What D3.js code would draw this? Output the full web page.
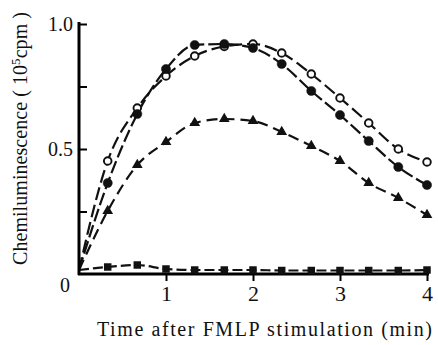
<!DOCTYPE html>
<html>
<head>
<meta charset="utf-8">
<script src="https://cdn.jsdelivr.net/npm/d3@7"></script>
<style>
  body { margin: 0; background: #fff; }
  svg { display: block; }
  text { font-family: "Liberation Serif", "Times New Roman", serif; fill: #111; }
</style>
</head>
<body>
<svg id="chart" width="438" height="345"></svg>
<script>

// time points (min)
var times = [0, 0.33, 0.67, 1, 1.33, 1.67, 2, 2.33, 2.67, 3, 3.33, 3.67, 4];

// chemiluminescence (10^5 cpm)
var openCircles   = [0.016, 0.452, 0.664, 0.792, 0.872, 0.910, 0.920, 0.884, 0.800, 0.704, 0.604, 0.500, 0.448];
var filledCircles = [0.016, 0.364, 0.640, 0.820, 0.916, 0.920, 0.904, 0.840, 0.732, 0.636, 0.532, 0.428, 0.356];
var triangles     = [0.016, 0.252, 0.436, 0.528, 0.604, 0.620, 0.612, 0.568, 0.512, 0.452, 0.364, 0.304, 0.236];
var squares       = [0.016, 0.028, 0.036, 0.020, 0.016, 0.016, 0.016, 0.014, 0.014, 0.014, 0.014, 0.014, 0.016];

var xTicks = [1, 2, 3, 4];
var yTicks = [0, 0.25, 0.5, 0.75, 1];
var yTickLabels = {"0": "0", "0.5": "0.5", "1": "1.0"};

var svg = d3.select("#chart");

var x = d3.scaleLinear()
    .domain([0, 4])
    .range([79, 427]);

var y = d3.scaleLinear()
    .domain([0, 1])
    .range([274, 24]);

function pts(vals) {
    return vals.map(function(v, i) { return {t: times[i], v: v}; });
}

var line = d3.line()
    .x(function(d) { return x(d.t); })
    .y(function(d) { return y(d.v); })
    .curve(d3.curveMonotoneX);

var series = [
    {data: pts(openCircles),   dash: "13,5", marker: "open"},
    {data: pts(filledCircles), dash: "13,4", marker: "filled"},
    {data: pts(triangles),     dash: "11,6", marker: "triangle"},
    {data: pts(squares),       dash: "10,4", marker: "square"}
];

// lines
series.forEach(function(s) {
    svg.append("path")
        .datum(s.data)
        .attr("fill", "none")
        .attr("stroke", "#111")
        .attr("stroke-width", 2.2)
        .attr("stroke-dasharray", s.dash)
        .attr("d", line);
});

// axes
var gx = svg.append("g")
    .attr("transform", "translate(0," + y(0) + ")")
    .call(d3.axisBottom(x).tickValues(xTicks).tickSize(7).tickSizeOuter(0).tickPadding(4).tickFormat(d3.format("d")));

gx.select(".domain").attr("stroke-width", 3).attr("d", "M" + (x(0) - 1) + ",0H" + (x(4) + 2));
gx.selectAll(".tick line").attr("stroke-width", 2);
gx.selectAll(".tick text")
    .style("font-size", "22px")
    .attr("fill", "#111");

var gy = svg.append("g")
    .attr("transform", "translate(" + x(0) + ",0)")
    .call(d3.axisLeft(y).tickValues(yTicks).tickSize(-8).tickSizeOuter(0).tickPadding(6)
        .tickFormat(function(d) { return yTickLabels[String(d)] || ""; }));

gy.select(".domain").attr("stroke-width", 3).attr("d", "M0," + (y(0) + 1) + "V" + (y(1) - 2));
gy.selectAll(".tick line").attr("stroke-width", 2);
gy.selectAll(".tick text")
    .style("font-size", "20px")
    .attr("fill", "#111");
gy.selectAll(".tick")
    .filter(function(d) { return d === 0; })
    .select("line").remove();
gy.selectAll(".tick")
    .filter(function(d) { return d === 0; })
    .select("text")
    .attr("x", -9)
    .attr("dy", "0.85em");

// markers
series.forEach(function(s) {
    var g = svg.append("g");
    if (s.marker === "open" || s.marker === "filled") {
        g.selectAll("circle")
            .data(s.data.slice(1))
          .enter().append("circle")
            .attr("cx", function(d) { return x(d.t); })
            .attr("cy", function(d) { return y(d.v); })
            .attr("r", s.marker === "open" ? 3.8 : 4.6)
            .attr("fill", s.marker === "open" ? "#fff" : "#111")
            .attr("stroke", "#111")
            .attr("stroke-width", s.marker === "open" ? 1.9 : 0.5);
    } else {
        var sym = d3.symbol()
            .type(s.marker === "triangle" ? d3.symbolTriangle : d3.symbolSquare)
            .size(s.marker === "triangle" ? 50 : 56);
        g.selectAll("path")
            .data(s.data.slice(1))
          .enter().append("path")
            .attr("transform", function(d) { return "translate(" + x(d.t) + "," + y(d.v) + ")"; })
            .attr("d", sym)
            .attr("fill", "#111");
    }
});

// axis titles
svg.append("text")
    .attr("x", 97)
    .attr("y", 336)
    .attr("textLength", 335)
    .attr("lengthAdjust", "spacing")
    .style("font-size", "20px")
    .text("Time after FMLP stimulation (min)");

var yt = svg.append("text")
    .attr("transform", "translate(27,265)rotate(-90)")
    .attr("textLength", 253)
    .attr("lengthAdjust", "spacing")
    .style("font-size", "20px");
yt.append("tspan").text("Chemiluminescence ( 10");
yt.append("tspan").attr("dy", -7).style("font-size", "13px").text("5");
yt.append("tspan").attr("dy", 7).text("cpm )");

</script>
</body>
</html>
